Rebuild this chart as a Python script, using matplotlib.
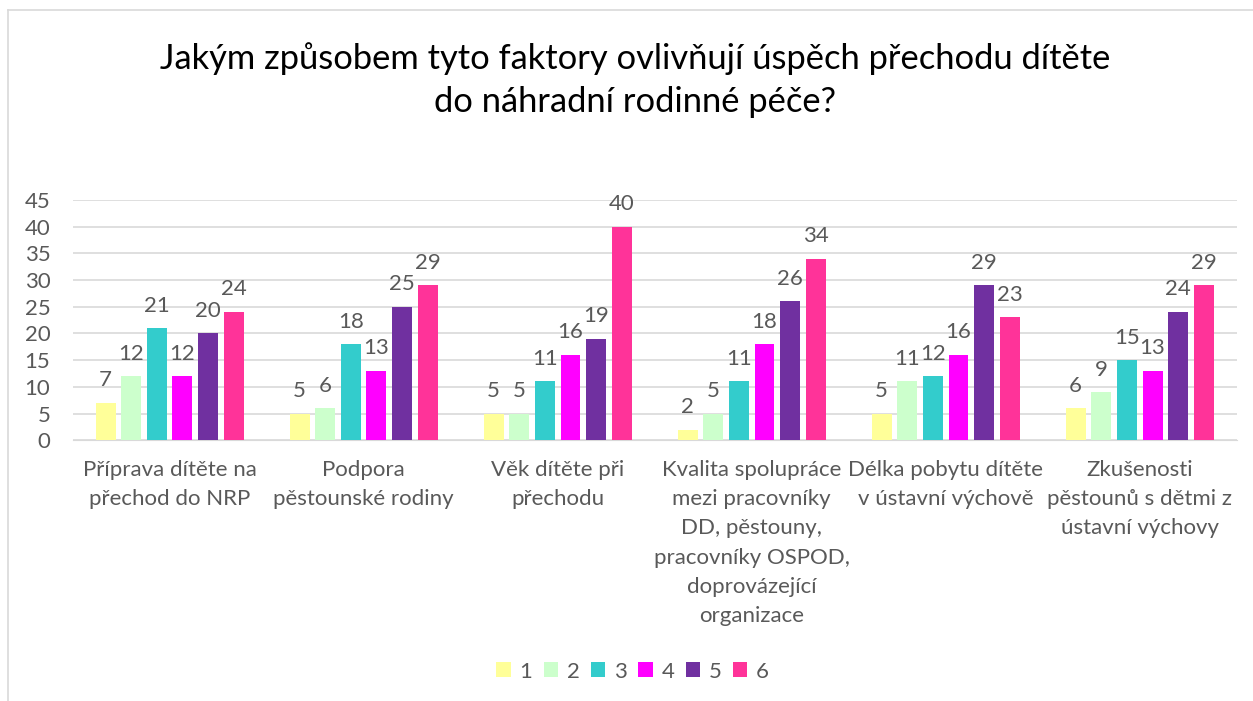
import numpy as np
import matplotlib.pyplot as plt
from matplotlib.lines import Line2D

plt.rcParams['font.family'] = ['Lato', 'DejaVu Sans']

categories = ['Příprava dítěte na\npřechod do NRP',
              'Podpora\npěstounské rodiny',
              'Věk dítěte při\npřechodu',
              'Kvalita spolupráce\nmezi pracovníky\nDD, pěstouny,\npracovníky OSPOD,\ndoprovázející\norganizace',
              'Délka pobytu dítěte\nv ústavní výchově',
              'Zkušenosti\npěstounů s dětmi z\nústavní výchovy']
series_names = ['1', '2', '3', '4', '5', '6']
s1 = [7, 5, 5, 2, 5, 6]
s2 = [12, 6, 5, 5, 11, 9]
s3 = [21, 18, 11, 11, 12, 15]
s4 = [12, 13, 16, 18, 16, 13]
s5 = [20, 25, 19, 26, 29, 24]
s6 = [24, 29, 40, 34, 23, 29]
colors = ['#FFFF99', '#CCFFCC', '#33CCCC', '#FF00FF', '#7030A0', '#FF3399']

fig = plt.figure(figsize=(12.53, 7.01), dpi=100)
ax = fig.add_axes([0.058, 0.372, 0.929, 0.343])

x = np.arange(len(categories))
step = 0.132
width = 0.103
txt = '#595959'
fs = 16
for i, vals in enumerate([s1, s2, s3, s4, s5, s6]):
    pos = x + (i - 2.5) * step
    bars = ax.bar(pos, vals, width, color=colors[i], label=series_names[i], zorder=3)
    ax.bar_label(bars, padding=9, fontsize=fs, color=txt)

ax.set_xlim(-0.5, len(categories) - 0.5)
ax.set_ylim(0, 45)
ax.set_yticks(range(0, 46, 5))
ax.yaxis.grid(True, color='#D9D9D9', lw=1.2, zorder=0)
for s in ['top', 'right', 'left']:
    ax.spines[s].set_visible(False)
ax.spines['bottom'].set_color('#D9D9D9')
ax.tick_params(axis='both', length=0, colors=txt, labelsize=fs)
ax.tick_params(axis='y', pad=16)
ax.set_xticks(x)
ax.set_xticklabels(categories, linespacing=1.58)
ax.tick_params(axis='x', pad=14)

fig.text(0.507, 0.886, 'Jakým způsobem tyto faktory ovlivňují úspěch přechodu dítěte\ndo náhradní rodinné péče?',
         ha='center', va='center', fontsize=24.8, color='black', linespacing=1.4)

leg = fig.legend(loc='center', bbox_to_anchor=(0.505, 0.042), ncol=6, frameon=False,
                 fontsize=fs, handlelength=0.65, handleheight=0.65, columnspacing=0.5,
                 handletextpad=0.4)
for t in leg.get_texts():
    t.set_color(txt)

# chart border (partly cropped)
fig.add_artist(Line2D([8 / 1253, 8 / 1253], [0, 1 - 10 / 701], color='#D9D9D9', lw=1.2))
fig.add_artist(Line2D([8 / 1253, 1], [1 - 10 / 701, 1 - 10 / 701], color='#D9D9D9', lw=1.2))

fig.savefig('out.png', dpi=100)
